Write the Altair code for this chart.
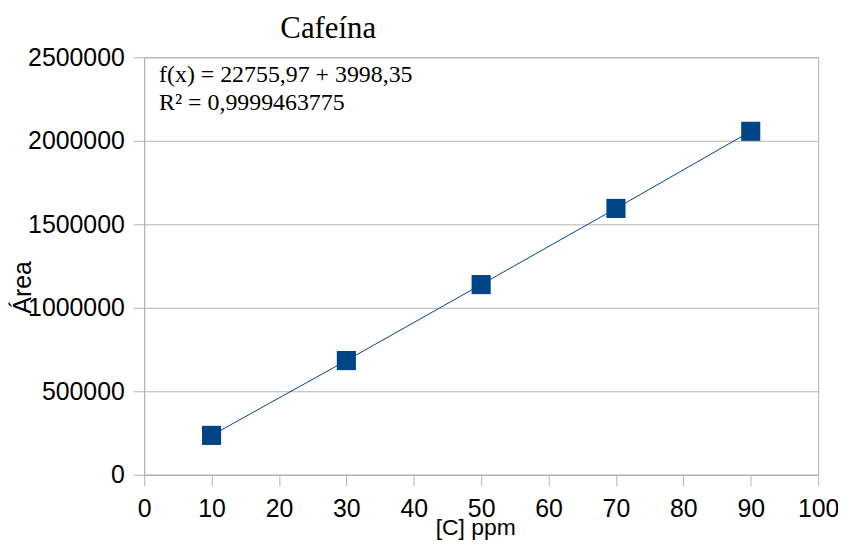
import altair as alt
import pandas as pd

conc = [10, 30, 50, 70, 90]
area = [236000, 684000, 1139000, 1595000, 2057000]
eq_lines = ["f(x) = 22755,97 + 3998,35", "R² = 0,9999463775"]
chart_title = "Cafeína"

df = pd.DataFrame({"x": conc, "y": area})

GRAY = "#b3b3b3"
xs = alt.X("x:Q", title="[C] ppm",
           scale=alt.Scale(domain=[0, 100], nice=False),
           axis=alt.Axis(values=list(range(0, 101, 10)), grid=False,
                         labelFontSize=25, titleFontSize=23, labelFont="Liberation Sans",
                         titleFont="Liberation Sans", titleFontWeight="normal",
                         labelColor="black", titleColor="black",
                         domainColor=GRAY, tickColor=GRAY, tickSize=11,
                         labelFlush=False, labelOverlap=False,
                         labelBaseline="alphabetic", labelPadding=31,
                         titleBaseline="alphabetic", titleY=60, titleX=333))
ys = alt.Y("y:Q", title="Área",
           scale=alt.Scale(domain=[0, 2500000], nice=False),
           axis=alt.Axis(values=list(range(0, 2500001, 500000)), format="d",
                         labelFontSize=25, titleFontSize=25, labelFont="Liberation Sans",
                         titleFont="Liberation Sans", titleFontWeight="normal",
                         labelColor="black", titleColor="black",
                         gridColor=GRAY, domainColor=GRAY,
                         tickColor=GRAY, tickSize=11, labelPadding=9,
                         labelFlush=False, labelOverlap=False,
                         titleAngle=270, titleBaseline="alphabetic", titleAlign="center",
                         titleX=-114, titleY=231))

base = alt.Chart(df)
line = base.mark_line(color="#004586", strokeWidth=1).encode(x=xs, y=ys)
pts = base.mark_square(color="#004586", size=370, opacity=1).encode(x=xs, y=ys)

eq_layers = []
for i, t in enumerate(eq_lines):
    eq_layers.append(
        alt.Chart(pd.DataFrame({"t": [t]})).mark_text(
            font="Liberation Serif", fontSize=24, align="left",
            baseline="alphabetic", color="black").encode(
            x=alt.value(15), y=alt.value(25 + 28 * i), text="t:N"))

title_layer = alt.Chart(pd.DataFrame({"t": [chart_title]})).mark_text(
    font="Liberation Serif", fontSize=31, align="left", baseline="alphabetic",
    color="black").encode(x=alt.value(137), y=alt.value(-19), text="t:N")

chart = alt.layer(line, pts, *eq_layers, title_layer).properties(
    width=678, height=420,
    autosize=alt.AutoSizeParams(type="none"),
    padding={"left": 137, "top": 48, "right": 20, "bottom": 66},
    background="white",
).configure_view(stroke=GRAY, strokeWidth=1)

chart.save("out.html", embed_options={"renderer": "svg", "actions": False})
